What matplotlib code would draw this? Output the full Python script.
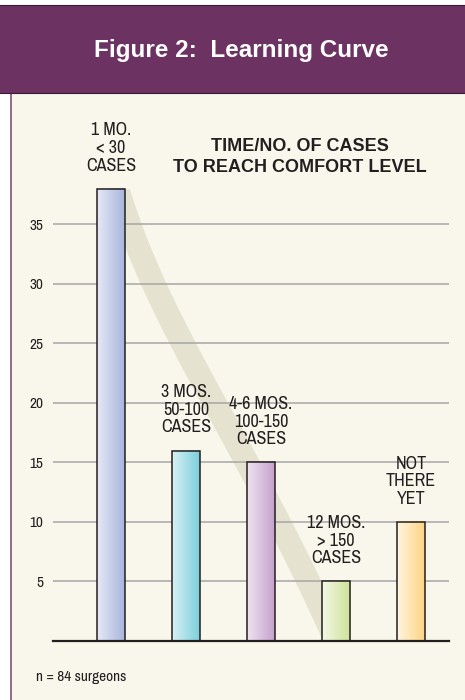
import numpy as np
import matplotlib.pyplot as plt
from matplotlib.patches import Rectangle
from matplotlib.lines import Line2D
from matplotlib.colors import LinearSegmentedColormap

# data
bar_labels = ['1 MO.\n< 30\nCASES', '3 MOS.\n50-100\nCASES', '4-6 MOS.\n100-150\nCASES',
              '12 MOS.\n> 150\nCASES', 'NOT\nTHERE\nYET']
surgeons = [38, 16, 15, 5, 10]
yticks = [5, 10, 15, 20, 25, 30, 35]

# gradient colours, left (light) -> right (dark)
bar_colors = [('#e6e9f6', '#a8b5dc'),
              ('#d8f1f4', '#7bcfdb'),
              ('#f0e3f0', '#c5a1ce'),
              ('#f3f8e6', '#cee399'),
              ('#fff5e1', '#fdd482')]

cream = '#f9f6eb'
purple = '#6b3262'
ink = '#231f20'
narrow = ['Archivo Narrow', 'DejaVu Sans']

W, H = 465, 700
fig = plt.figure(figsize=(W / 100, H / 100), dpi=100)
fig.patch.set_facecolor('white')

# background panels
fig.patches.append(Rectangle((11 / W, 0), 1 - 11 / W, 1 - 93 / H, transform=fig.transFigure,
                             fc=cream, ec='none', zorder=-10))
fig.lines.append(Line2D([11 / W, 11 / W], [0, 1 - 93 / H], transform=fig.transFigure,
                        color='#8a4f80', lw=1.2, zorder=-9))
fig.patches.append(Rectangle((-0.01, 1 - 93 / H), 1.02, 88 / H, transform=fig.transFigure,
                             fc=purple, ec='#3b1a36', lw=0.8, zorder=-8))

fig.text(241 / W, 1 - 50 / H, 'Figure 2:  Learning Curve', color='white', fontsize=17.5,
         fontweight='bold', family='Liberation Sans', ha='center', va='center')

ax = fig.add_axes([53 / W, 1 - 641 / H, (449 - 53) / W, (641 - 100) / H])
ax.set_facecolor('none')

x = np.arange(len(surgeons))
w = 0.373

# decorative learning-curve swoosh (cubic bezier from bar 1 top to bar 4 base)
t = np.linspace(0, 1, 200)[:, None]
p0 = np.array([0.0, surgeons[0] + 2])
p1 = np.array([0.5, 0.72 * surgeons[0]])
p2 = np.array([1.8, 0.45 * surgeons[0]])
p3 = np.array([3.0, 0.0])
curve = (1 - t) ** 3 * p0 + 3 * (1 - t) ** 2 * t * p1 + 3 * (1 - t) * t ** 2 * p2 + t ** 3 * p3
swoosh, = ax.plot(curve[:, 0], curve[:, 1], color='#e5e2cf', lw=17, solid_capstyle='butt', zorder=0.3)
clip = Rectangle((-1, 0), 6, surgeons[0], transform=ax.transData)
swoosh.set_clip_path(clip)

bars = ax.bar(x, surgeons, width=w, facecolor='none', edgecolor=ink, linewidth=1.1, zorder=2.2)
grad = np.linspace(0, 1, 256).reshape(1, -1)
for b, (c1, c2) in zip(bars, bar_colors):
    cmap = LinearSegmentedColormap.from_list('g', [c1, c2])
    ax.imshow(grad, cmap=cmap, aspect='auto', zorder=2,
              extent=(b.get_x(), b.get_x() + b.get_width(), 0, b.get_height()))

for xi, v, lab in zip(x, surgeons, bar_labels):
    ax.annotate(lab, xy=(xi, v), xytext=(0, 11), textcoords='offset points',
                ha='center', va='bottom', fontsize=13, family=narrow, fontweight='medium',
                color=ink, linespacing=1.12, zorder=3)

ax.set_xlim(-0.773, 4.507)
ax.set_ylim(0, 45.46)
ax.set_xticks([])
ax.set_yticks(yticks)
ax.set_yticklabels([str(v) for v in yticks], family=narrow, fontsize=11, color=ink)
ax.tick_params(axis='y', length=0, pad=7)
ax.yaxis.grid(True, color='#a6a6a6', lw=1.1)
ax.set_axisbelow(True)
for s in ['left', 'top', 'right']:
    ax.spines[s].set_visible(False)
ax.spines['bottom'].set_color(ink)
ax.spines['bottom'].set_linewidth(1.6)

fig.text(300 / W, 1 - 157 / H, 'TIME/NO. OF CASES\nTO REACH COMFORT LEVEL', fontsize=13,
         fontweight='bold', family='Liberation Sans', ha='center', va='center',
         color=ink, linespacing=1.25)

fig.text(36 / W, 1 - 677 / H, 'n = 84 surgeons', family=narrow, fontsize=11,
         color=ink, va='center')

fig.savefig('out.png', dpi=100)
